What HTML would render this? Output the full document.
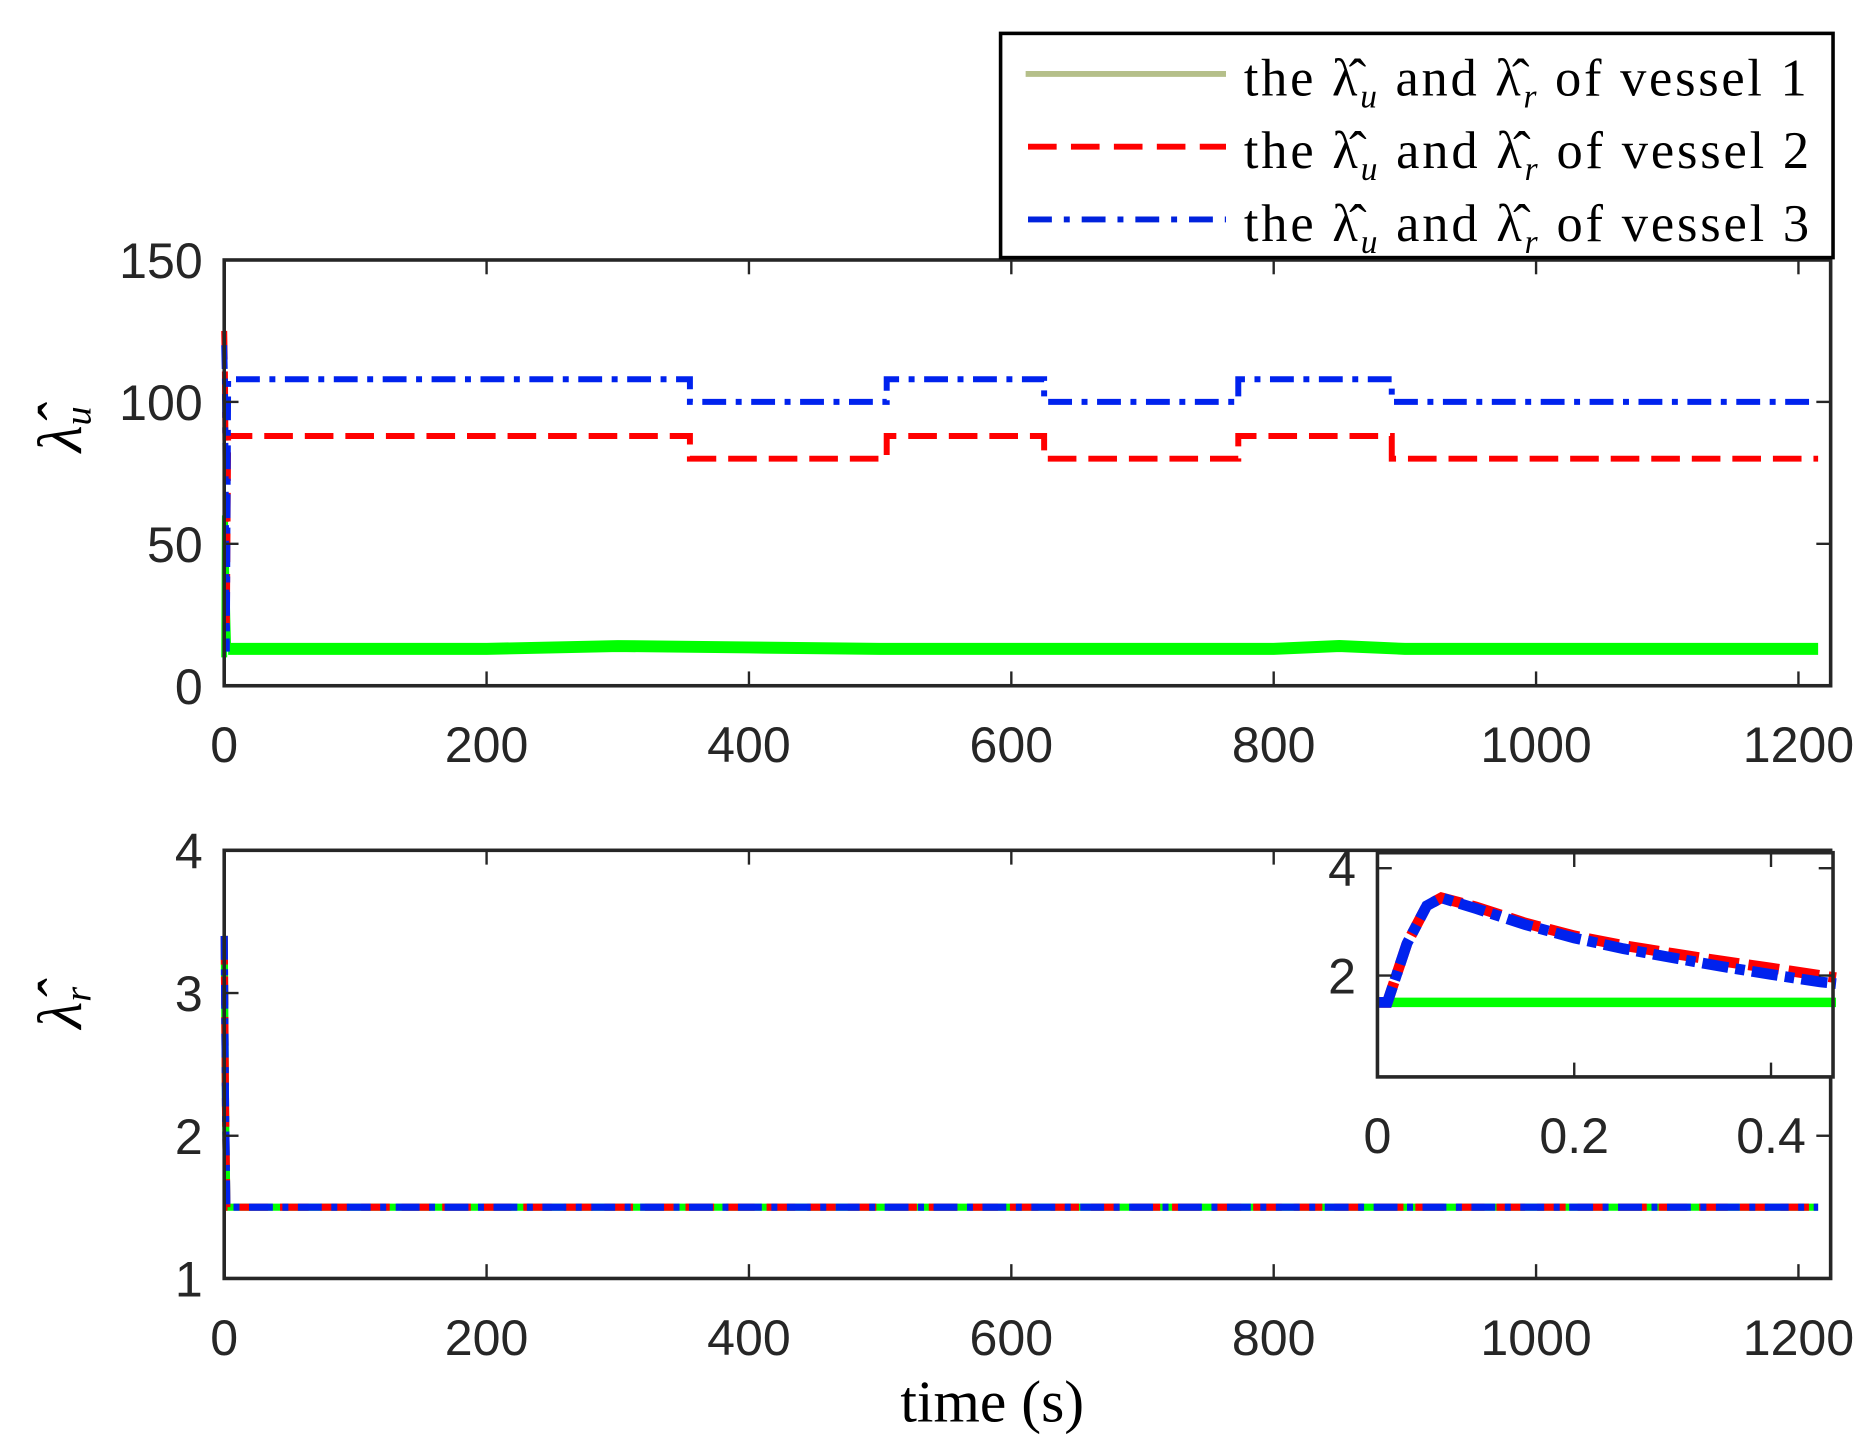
<!DOCTYPE html>
<html><head><meta charset="utf-8"><style>
html,body{margin:0;padding:0;background:#fff;}
svg{display:block;}
text{font-family:"Liberation Sans",sans-serif;fill:#262626;}
.serif{font-family:"Liberation Serif",serif;fill:#000;}
</style></head><body>
<svg id="chart" width="1870" height="1449" viewBox="0 0 1568 1215" preserveAspectRatio="none" xmlns="http://www.w3.org/2000/svg">
<rect width="1568" height="1215" fill="#fff"/>
<g id="top"></g>
<g id="bot"></g>
<g id="ins"></g>
<g id="legend">
  <rect x="839" y="28" width="698" height="188" fill="#fff" stroke="#000" stroke-width="3"/>
  <g>
    <line x1="860" y1="62" x2="1028" y2="62" stroke="#b5bf8a" stroke-width="5"/>
    <text class="serif" x="1043" y="80" font-size="44" textLength="472" lengthAdjust="spacing">the λ&#770;<tspan font-size="28" font-style="italic" dy="10">u</tspan><tspan dy="-10"> and λ&#770;</tspan><tspan font-size="28" font-style="italic" dy="10">r</tspan><tspan dy="-10"> of vessel 1</tspan></text>
  </g>
  <g>
    <line x1="862" y1="123" x2="1028" y2="123" stroke="#f00" stroke-width="5" stroke-dasharray="24,12"/>
    <text class="serif" x="1043" y="141" font-size="44" textLength="474" lengthAdjust="spacing">the λ&#770;<tspan font-size="28" font-style="italic" dy="10">u</tspan><tspan dy="-10"> and λ&#770;</tspan><tspan font-size="28" font-style="italic" dy="10">r</tspan><tspan dy="-10"> of vessel 2</tspan></text>
  </g>
  <g>
    <line x1="862" y1="184" x2="1028" y2="184" stroke="#0022dd" stroke-width="5" stroke-dasharray="20,10,5,10"/>
    <text class="serif" x="1043" y="202" font-size="44" textLength="474" lengthAdjust="spacing">the λ&#770;<tspan font-size="28" font-style="italic" dy="10">u</tspan><tspan dy="-10"> and λ&#770;</tspan><tspan font-size="28" font-style="italic" dy="10">r</tspan><tspan dy="-10"> of vessel 3</tspan></text>
  </g>
</g>
<text class="serif" x="832" y="1192" font-size="50" text-anchor="middle">time (s)</text>
<text class="serif" transform="translate(68,360) rotate(-90)" font-size="52" font-style="italic" text-anchor="middle">λ&#770;<tspan font-size="32" dy="8">u</tspan></text>
<text class="serif" transform="translate(68,845) rotate(-90)" font-size="52" font-style="italic" text-anchor="middle">λ&#770;<tspan font-size="32" dy="8">r</tspan></text>
</svg>
<script>
// ---- data ----
const xTicks = [0,200,400,600,800,1000,1200];
const topYTicks = [0,50,100,150];
const botYTicks = [1,2,3,4];
const switchTimes = [0,355,505,625,773,890,1215];
const vessel3Levels = [108,100,108,100,108,100];
const vessel2Levels = [88,80,88,80,88,80];
const vessel1Times = [0,100,200,300,400,500,600,700,800,850,900,1000,1100,1215];
const vessel1Values = [13,13,13,14,13.5,13,13,13,13,14,13,13,13,13];
const spikeTimes = [0,0.5,2,3];
const vessel2Spike = [125,110,20,88];
const vessel3Spike = [120,108,12,108];
const vessel1Spike = [10,60,30,13];
const botSpikeValues = [3.4,2.2,1.5];
const steadyR = 1.5;
const insXTicks = [0,0.2,0.4];
const insYTicks = [2,4];
const insT = [0,0.01,0.03,0.05,0.065,0.1,0.15,0.2,0.25,0.3,0.35,0.4,0.45,0.466];
const insBlue = [1.5,1.5,2.6,3.3,3.45,3.25,2.95,2.7,2.5,2.33,2.17,2.02,1.88,1.85];
const insRed = [1.5,1.5,2.6,3.3,3.45,3.28,2.98,2.74,2.56,2.41,2.27,2.14,2.0,1.96];
const insGreen = 1.5;

const NS="http://www.w3.org/2000/svg";
function mk(tag,attrs,parent){const e=document.createElementNS(NS,tag);for(const k in attrs)e.setAttribute(k,attrs[k]);parent.appendChild(e);return e;}
function lin(d0,d1,r0,r1){return v=>r0+(v-d0)*(r1-r0)/(d1-d0);}

function axes(g,X,Y,x0,x1,y0,y1,xt,yt,name,fs,fmt){
  mk('rect',{x:x0,y:y0,width:x1-x0,height:y1-y0,fill:'none',stroke:'#262626','stroke-width':3},g);
  xt.forEach(t=>{const x=X(t);
    const l=mk('line',{x1:x,x2:x,y1:y1,y2:y1-12,stroke:'#262626','stroke-width':2},g);
    
    
    mk('line',{x1:x,x2:x,y1:y0,y2:y0+12,stroke:'#262626','stroke-width':2},g);
    const tx=mk('text',{x:x,y:y1+fs+22,'font-size':fs,'text-anchor':'middle'},g);tx.textContent=fmt?fmt(t):t;
    
    
  });
  yt.forEach(t=>{const y=Y(t);
    mk('line',{x1:x0,x2:x0+12,y1:y,y2:y,stroke:'#262626','stroke-width':2},g);
    mk('line',{x1:x1,x2:x1-12,y1:y,y2:y,stroke:'#262626','stroke-width':2},g);
    const tx=mk('text',{x:x0-18,y:y+fs*0.36,'font-size':fs,'text-anchor':'end'},g);tx.textContent=t;
    
    
  });
}
function path(g,pts,attrs,name){const p=mk('path',Object.assign({d:'M'+pts.map(p=>p[0].toFixed(1)+','+p[1].toFixed(1)).join('L'),fill:'none'},attrs),g);
  
  return p;}
function stepPts(X,Y,levels,spikeV){
  const pts=[];spikeTimes.forEach((t,i)=>pts.push([X(t),Y(spikeV[i])]));
  levels.forEach((v,i)=>{pts.push([X(Math.max(switchTimes[i],3)),Y(v)]);pts.push([X(switchTimes[i+1]),Y(v)]);});
  return pts;}

// top panel
const gT=document.getElementById('top');
const XT=lin(0,1200,188,1508), YT=lin(0,150,575,218);
path(gT,vessel1Times.map((t,i)=>[XT(Math.max(t,3)),YT(vessel1Values[i])]),{stroke:'#00ff00','stroke-width':10},'vessel-1-lambda-u');
path(gT,spikeTimes.map((t,i)=>[XT(t),YT(vessel1Spike[i])]),{stroke:'#00ff00','stroke-width':5},'vessel-1-lambda-u-spike');
path(gT,stepPts(XT,YT,vessel2Levels,vessel2Spike),{stroke:'#f00','stroke-width':5,'stroke-dasharray':'24,10'},'vessel-2-lambda-u');
path(gT,stepPts(XT,YT,vessel3Levels,vessel3Spike),{stroke:'#0022ee','stroke-width':5,'stroke-dasharray':'20,8,5,8'},'vessel-3-lambda-u');
axes(gT,XT,YT,188,1535,218,575,xTicks,topYTicks,'top',42);

// bottom panel
const gB=document.getElementById('bot');
const XB=lin(0,1200,188,1508), YB=lin(1,4,1072,713);
const bp=[[XB(0),YB(botSpikeValues[0])],[XB(1),YB(botSpikeValues[1])],[XB(2),YB(botSpikeValues[2])],[XB(1215),YB(steadyR)]];
path(gB,bp,{stroke:'#00ff00','stroke-width':6},'vessel-1-lambda-r');
path(gB,bp,{stroke:'#f00','stroke-width':6,'stroke-dasharray':'24,10'},'vessel-2-lambda-r');
path(gB,bp,{stroke:'#0022ee','stroke-width':6,'stroke-dasharray':'20,8,5,8'},'vessel-3-lambda-r');
axes(gB,XB,YB,188,1535,713,1072,xTicks,botYTicks,'bottom',42);

// inset
const gI=document.getElementById('ins');
const XI=lin(0,0.2,1155,1320), YI=lin(2,4,818,728);
mk('rect',{x:1155,y:715,width:382,height:188,fill:'#fff'},gI);
path(gI,[[XI(0),YI(insGreen)],[XI(0.466),YI(insGreen)]],{stroke:'#00ff00','stroke-width':8},'inset-vessel-1');
path(gI,insT.map((t,i)=>[XI(t),YI(insRed[i])]),{stroke:'#f00','stroke-width':9,'stroke-dasharray':'26,8'},'inset-vessel-2');
path(gI,insT.map((t,i)=>[XI(t),YI(insBlue[i])]),{stroke:'#0022ee','stroke-width':9,'stroke-dasharray':'22,6,8,6'},'inset-vessel-3');
axes(gI,XI,YI,1155,1537,715,903,insXTicks,insYTicks,'inset',42,t=>t===0?'0':t.toFixed(1));
</script>
</body></html>
